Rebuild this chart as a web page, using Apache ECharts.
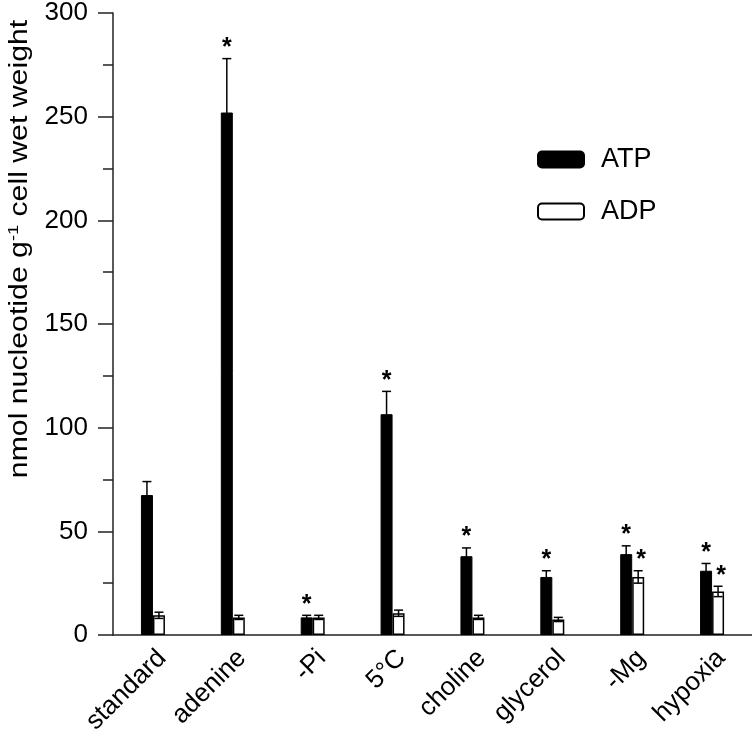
<!DOCTYPE html>
<html><head><meta charset="utf-8">
<script src="https://cdn.jsdelivr.net/npm/echarts@6/dist/echarts.min.js"></script>
<style>html,body{margin:0;padding:0;background:#fff}#c{width:752px;height:740px}</style>
</head><body><div id="c"></div>
<script>
const categories = ['standard','adenine','-Pi','5°C','choline','glycerol','-Mg','hypoxia'];
const atp    = [67.5, 252, 8.5, 106.5, 38, 28, 39, 31];
const atpErr = [6.5, 26, 1, 11, 4, 3, 4, 3.5];
const adp    = [9.5, 8.5, 8.5, 10.5, 8.5, 7.5, 28, 21];
const adpErr = [1.5, 1, 1, 1.5, 1, 1, 3, 2.5];
const atpSig = [0, 1, 1, 1, 1, 1, 1, 1];
const adpSig = [0, 0, 0, 0, 0, 0, 1, 1];
const yTicks = [0, 50, 100, 150, 200, 250, 300];

const FONT = '"Liberation Sans", Arial, Helvetica, sans-serif';
const BW = 12;
function errData(vals, errs, sigs){ return vals.map((v,i)=>[i, v, errs[i], sigs[i]]); }
function makeErr(offset, sigDx){
  return function(params, api){
    const i = api.value(0), v = api.value(1), e = api.value(2), s = api.value(3);
    const c = api.coord([i, v]);
    const top = api.coord([i, v + e]);
    const bot = api.coord([i, Math.max(0, v - e)]);
    const x = c[0] + offset;
    const cap = 4.5;
    const st = {stroke:'#000', lineWidth:1.5};
    const children = [
      {type:'line', shape:{x1:x, y1:top[1], x2:x, y2:bot[1]}, style:st},
      {type:'line', shape:{x1:x-cap, y1:top[1], x2:x+cap, y2:top[1]}, style:st},
      {type:'line', shape:{x1:x-cap, y1:bot[1], x2:x+cap, y2:bot[1]}, style:st}
    ];
    if (s) children.push({type:'text', style:{text:'*', x:x+sigDx, y:top[1]+2, fill:'#000', font:'bold 25px ' + FONT, align:'center', verticalAlign:'bottom'}});
    return {type:'group', children};
  };
}

const chart = echarts.init(document.getElementById('c'), null, {renderer:'canvas'});
chart.setOption({
  animation:false,
  backgroundColor:'#fff',
  grid:{left:113, right:-9, top:13, bottom:105},
  legend:{
    orient:'vertical', left:532, top:141, itemWidth:46, itemHeight:16, itemGap:25,
    icon:'roundRect',
    textStyle:{fontSize:27, color:'#000', fontFamily:FONT, padding:[0,0,0,12]},
    data:['ATP','ADP']
  },
  xAxis:{
    type:'category', data:categories,
    axisLine:{lineStyle:{color:'#222', width:1.5}},
    axisTick:{show:false},
    axisLabel:{rotate:45, fontSize:26, color:'#000', margin:10, interval:0, verticalAlign:'top', fontFamily:FONT}
  },
  yAxis:{
    type:'value', min:0, max:300, interval:50,
    axisLine:{show:true, lineStyle:{color:'#222', width:1.5}},
    axisTick:{show:true, length:15, lineStyle:{color:'#222', width:1.5}},
    minorTick:{show:true, splitNumber:2, length:10, lineStyle:{color:'#222', width:1.5}},
    splitLine:{show:false},
    axisLabel:{fontSize:26, color:'#000', margin:25, fontFamily:FONT,
      formatter:function(v){ return yTicks.indexOf(v) >= 0 ? String(v) : ''; }}
  },
  graphic:[{
    type:'text', x:20, y:249, rotation:Math.PI/2, scaleX:1.21,
    style:{
      text:'nmol nucleotide g{sup|-1} cell wet weight',
      font:'25px ' + FONT, fill:'#000',
      align:'center', verticalAlign:'middle',
      rich:{sup:{fontSize:15, verticalAlign:'top', padding:[0,0,12,0], fill:'#000', fontFamily:FONT}}
    }
  }],
  series:[
    {name:'ATP', type:'bar', data:atp, barWidth:BW, barGap:'0%',
      itemStyle:{color:'#000', borderColor:'#000', borderWidth:1}},
    {name:'ADP', type:'bar', data:adp, barWidth:BW, barGap:'0%',
      itemStyle:{color:'#fff', borderColor:'#000', borderWidth:1.5}},
    {type:'custom', data:errData(atp, atpErr, atpSig), renderItem:makeErr(-BW/2, 0), encode:{x:0, y:1}, z:5, silent:true},
    {type:'custom', data:errData(adp, adpErr, adpSig), renderItem:makeErr(BW/2, 3), encode:{x:0, y:1}, z:5, silent:true}
  ]
});
</script></body></html>
